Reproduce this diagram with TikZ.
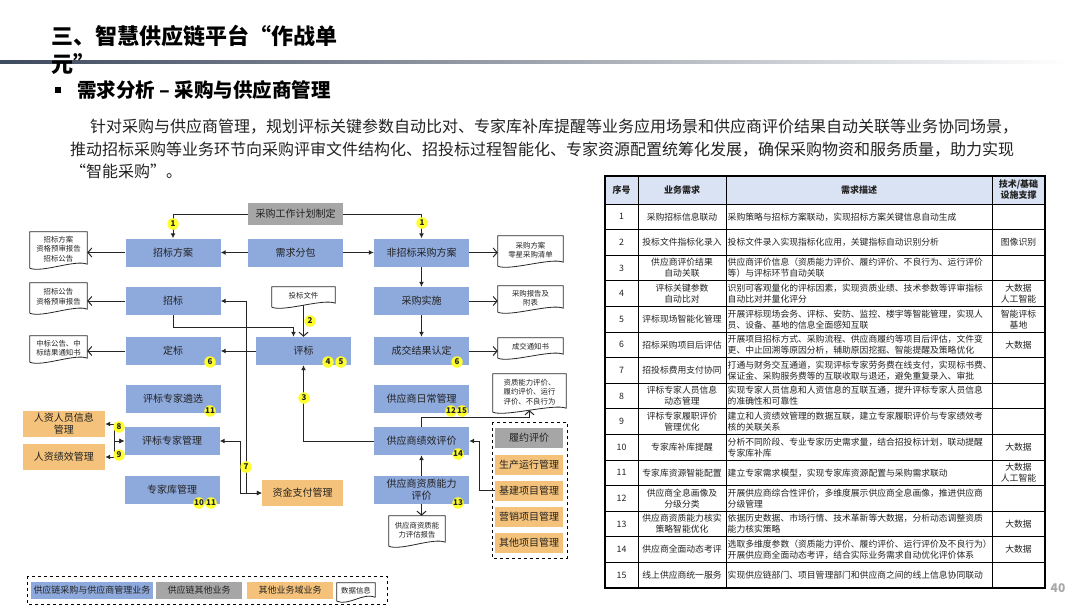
\documentclass[tikz,border=0pt]{standalone}
\usepackage{fontspec}
\setmainfont{Noto Sans CJK SC}
\usetikzlibrary{arrows.meta}
\definecolor{procblue}{HTML}{8EA9DB}
\definecolor{othgray}{HTML}{A6A6A6}
\definecolor{extorange}{HTML}{F4C27A}
\definecolor{headblue}{HTML}{DAE3F3}
\definecolor{rulegray}{HTML}{3E4A5E}
\definecolor{badgeyellow}{HTML}{FFFF30}
\definecolor{inkgray}{HTML}{222222}

\begin{document}
\begin{tikzpicture}[x=1pt, y=-1pt,
      every node/.style={text=inkgray},
      box/.style={rectangle, inner sep=0pt, minimum width=95, minimum height=28, align=center, font=\fontsize{10}{12}\selectfont},
      proc/.style={box, fill=procblue},
      other/.style={box, fill=othgray},
      ext/.style={box, fill=extorange},
      doc/.style={rectangle, inner sep=1pt, align=center, font=\fontsize{7.4}{9.6}\selectfont},
      docline/.style={draw=black!85, line width=0.8pt},
      badge/.style={circle, fill=badgeyellow, inner sep=0pt, minimum size=11.5, font=\fontsize{8}{8}\selectfont\bfseries},
      msg/.style={line width=1pt, draw=black!85, -{Latex[length=5pt,width=5pt]}},
      twoway/.style={msg, {Latex[length=5pt,width=5pt]}-{Latex[length=5pt,width=5pt]}},
      docarrow/.style={line width=1pt, draw=black!85, -{Straight Barb[length=4pt,width=9pt]}},
      cell/.style={inner sep=0pt, font=\fontsize{8.8}{11}\selectfont},
      tabline/.style={line width=0.8pt, draw=black}
  ]
    \useasboundingbox (0,0) rectangle (1080,608);

    % header of the slide
    \shade[left color=rulegray, right color=white] (0,60.5) rectangle (1070,63.5);
    \node[anchor=north west, align=left, inner sep=0pt, font=\fontsize{22}{28}\selectfont\bfseries, text=black] (title) at (51,25) {三、智慧供应链平台“作战单\\元”};
    \node[rectangle, fill=black, minimum size=5.5, inner sep=0pt] (bullet) at (58,90) {};
    \node[anchor=west, inner sep=0pt, font=\fontsize{19.5}{22}\selectfont\bfseries, text=black] (subtitle) at (77,90) {需求分析 – 采购与供应商管理};
    \node[anchor=north west, align=left, inner sep=0pt, font=\fontsize{16}{22.5}\selectfont] (intro) at (70,119) {\hspace*{20pt}针对采购与供应商管理，规划评标关键参数自动比对、专家库补库提醒等业务应用场景和供应商评价结果自动关联等业务协同场景，\\推动招标采购等业务环节向采购评审文件结构化、招投标过程智能化、专家资源配置统筹化发展，确保采购物资和服务质量，助力实现\\“智能采购”。};

    % flow chart
    \node[other, minimum height=22] (jhzd) at (295.5,214) {采购工作计划制定};
    \node[proc] (zbfa) at (173,252.5) {招标方案};
    \node[proc] (xqfb) at (295.5,252.5) {需求分包};
    \node[proc] (fzb) at (421.5,252.5) {非招标采购方案};
    \node[proc] (zb) at (173,301) {招标};
    \node[proc] (cgss) at (421.5,301) {采购实施};
    \node[proc] (pb) at (303.5,351) {评标};
    \node[proc] (db) at (173,351) {定标};
    \node[proc] (cjrd) at (421.5,351) {成交结果认定};
    \node[proc] (zjlx) at (173,399) {评标专家遴选};
    \node[proc] (zjgl) at (172,441) {评标专家管理};
    \node[proc] (zjk) at (172,490) {专家库管理};
    \node[ext, minimum width=82, minimum height=26] (hr1) at (64,424) {人资人员信息\\管理};
    \node[ext, minimum width=82, minimum height=26] (hr2) at (64,457) {人资绩效管理};
    \node[ext, minimum width=81, minimum height=26] (zjzf) at (302.5,493) {资金支付管理};
    \node[proc] (rcgl) at (421.5,399) {供应商日常管理};
    \node[proc] (jxpj) at (421.5,441) {供应商绩效评价};
    \node[proc] (zzpj) at (421.5,490) {供应商资质能力\\评价};

    \draw[dashed, line width=1pt] (492,422) rectangle (567,558);
    \node[other, minimum width=68, minimum height=20] (lypj) at (529,438) {履约评价};
    \node[ext, minimum width=68, minimum height=20] (scyx) at (529,465) {生产运行管理};
    \node[ext, minimum width=68, minimum height=20] (jjxm) at (529,490.5) {基建项目管理};
    \node[ext, minimum width=68, minimum height=20] (yxxm) at (529,517) {营销项目管理};
    \node[ext, minimum width=68, minimum height=20] (qtxm) at (529,543) {其他项目管理};

    \node[doc, minimum width=57, minimum height=34] (dzb1) at (58.5,249) {招标方案\\资格预审报告\\招标公告};
    \node[doc, minimum width=57, minimum height=28] (dzb2) at (58.5,297) {招标公告\\资格预审报告};
    \node[doc, minimum width=57, minimum height=24] (ddb) at (58.5,348) {中标公告、中\\标结果通知书};
    \node[doc, minimum width=63, minimum height=18] (dtb) at (303.5,296) {投标文件};
    \node[doc, minimum width=65, minimum height=28] (dfzb) at (530.5,250) {采购方案\\零星采购清单};
    \node[doc, minimum width=65, minimum height=24] (dcgss) at (530.5,298) {采购报告及\\附表};
    \node[doc, minimum width=65, minimum height=18] (dcj) at (530.5,347) {成交通知书};
    \node[doc, minimum width=56, minimum height=28] (dzz) at (417,530) {供应商资质能\\力评估报告};
    \node[doc, minimum width=73, minimum height=36] (dpj) at (529.5,392) {资质能力评价、\\履约评价、运行\\评价、不良行为};

    % legend
    \draw[dashed, line width=1pt] (27,576) rectangle (387,604);
    \node[proc, minimum width=122, minimum height=17, font=\fontsize{9}{10}\selectfont] (lg1) at (92,590.5) {供应链采购与供应商管理业务};
    \node[other, minimum width=86, minimum height=17, font=\fontsize{9}{10}\selectfont] (lg2) at (199,590.5) {供应链其他业务};
    \node[ext, minimum width=86, minimum height=17, font=\fontsize{9}{10}\selectfont] (lg3) at (290,590.5) {其他业务域业务};
    \node[doc, minimum width=38, minimum height=16] (dleg) at (356,591) {数据信息};

    \foreach \d in {dzb1,dzb2,ddb,dtb,dfzb,dcgss,dcj,dzz,dpj,dleg} {
      \draw[docline] ([yshift=-2pt]\d.south west) -- (\d.north west) -- (\d.north east) -- ([yshift=2pt]\d.south east) .. controls +(-12pt,5pt) and +(12pt,-5pt) .. ([yshift=-2pt]\d.south west);
    }

    \draw[msg] (jhzd.west) -| (zbfa.north);
    \draw[msg] (jhzd.east) -| (fzb.north);
    \draw[msg] (xqfb.west) -- (zbfa.east);
    \draw[msg] (xqfb.east) -- (fzb.west);
    \draw[msg] (fzb.south) -- (cgss.north);
    \draw[msg] (cgss.south) -- (cjrd.north);
    \draw[docarrow] (zbfa.west) -- (zbfa.west -| dzb1.east);
    \draw[docarrow] (zb.west) -- (zb.west -| dzb2.east);
    \draw[docarrow] (db.west) -- (db.west -| ddb.east);
    \draw[docarrow] (fzb.east) -- (fzb.east -| dfzb.west);
    \draw[docarrow] (cgss.east) -- (cgss.east -| dcgss.west);
    \draw[docarrow] (cjrd.east) -- (cjrd.east -| dcj.west);
    \draw[msg] (zb.south) -- ++(0,12) -| ([xshift=-10pt]pb.north);
    \draw[docarrow] (dtb.south) -- (pb.north);
    \draw[msg] (pb.west) -- (db.east);
    \draw[msg] (jxpj.west) -| (pb.south);
    \draw[twoway] (zjgl.west) -- ++(-10,0) |- (hr1.east);
    \draw[twoway] (zjgl.west) -- ++(-10,0) |- (hr2.east);
    \draw[twoway] (zjgl.east) -- ++(21,0) |- (zjzf.west);
    \draw[twoway] (zb.east) -- ++(26,0) |- (zjzf.west);
    \draw[msg] (zzpj.north) -- (jxpj.south);
    \draw[docarrow] (zzpj.south) -- (zzpj.south |- dzz.north);
    \draw[docarrow] (jxpj.north) -- ++(0,-9) -| (dpj.south);
    \draw[msg] (jjxm.west) -- ++(-15,0) |- (jxpj.east);

    \node[badge] (b1a) at (173,224) {1};
    \node[badge] (b1b) at (422,223) {1};
    \node[badge] (b2) at (310,321) {2};
    \node[badge] (b4) at (328,362) {4};
    \node[badge] (b5) at (341,362) {5};
    \node[badge] (b6a) at (210,362) {6};
    \node[badge] (b6b) at (457,362) {6};
    \node[badge] (b3) at (304,398) {3};
    \node[badge] (b11a) at (210,411) {11};
    \node[badge] (b8) at (119,427) {8};
    \node[badge] (b9) at (119,455) {9};
    \node[badge] (b7) at (246,467) {7};
    \node[badge] (b10) at (199,503) {10};
    \node[badge] (b11b) at (211,503) {11};
    \node[badge] (b12) at (451,411) {12};
    \node[badge] (b15) at (462,411) {15};
    \node[badge] (b14) at (458,454) {14};
    \node[badge] (b13) at (458,503) {13};

    % requirement table
    \fill[headblue] (605,176) rectangle (1045,204);
    \foreach \i in {0,...,14} {
      \draw[tabline] (605,{204+25.6*\i}) -- (1045,{204+25.6*\i});
    }
    \foreach \x in {638,726,992} {
      \draw[tabline] (\x,176) -- (\x,588);
    }
    \draw[line width=1.3pt] (605,176) rectangle (1045,588);
    \node[cell, font=\fontsize{9}{11}\selectfont\bfseries] (hno) at (621.5,190) {序号};
    \node[cell, font=\fontsize{9}{11}\selectfont\bfseries] (hreq) at (682,190) {业务需求};
    \node[cell, font=\fontsize{9}{11}\selectfont\bfseries] (hdesc) at (859,190) {需求描述};
    \node[cell, align=center, font=\fontsize{9}{11}\selectfont\bfseries] (htech) at (1018.5,190) {技术/基础\\设施支撑};

    \foreach \n/\req/\desc/\tech in {
      1/{采购招标信息联动}/{采购策略与招标方案联动，实现招标方案关键信息自动生成}/{},
      2/{投标文件指标化录入}/{投标文件录入实现指标化应用，关键指标自动识别分析}/{图像识别},
      3/{供应商评价结果\\自动关联}/{供应商评价信息（资质能力评价、履约评价、不良行为、运行评价\\等）与评标环节自动关联}/{},
      4/{评标关键参数\\自动比对}/{识别可客观量化的评标因素，实现资质业绩、技术参数等评审指标\\自动比对并量化评分}/{大数据\\人工智能},
      5/{评标现场智能化管理}/{开展评标现场会务、评标、安防、监控、楼宇等智能管理，实现人\\员、设备、基地的信息全面感知互联}/{智能评标\\基地},
      6/{招标采购项目后评估}/{开展项目招标方式、采购流程、供应商履约等项目后评估，文件变\\更、中止回溯等原因分析，辅助原因挖掘、智能提醒及策略优化}/{大数据},
      7/{招投标费用支付协同}/{打通与财务交互通道，实现评标专家劳务费在线支付，实现标书费、\\保证金、采购服务费等的互联收取与退还，避免重复录入、审批}/{},
      8/{评标专家人员信息\\动态管理}/{实现专家人员信息和人资信息的互联互通，提升评标专家人员信息\\的准确性和可靠性}/{},
      9/{评标专家履职评价\\管理优化}/{建立和人资绩效管理的数据互联，建立专家履职评价与专家绩效考\\核的关联关系}/{},
      10/{专家库补库提醒}/{分析不同阶段、专业专家历史需求量，结合招投标计划，联动提醒\\专家库补库}/{大数据},
      11/{专家库资源智能配置}/{建立专家需求模型，实现专家库资源配置与采购需求联动}/{大数据\\人工智能},
      12/{供应商全息画像及\\分级分类}/{开展供应商综合性评价，多维度展示供应商全息画像，推进供应商\\分级管理}/{},
      13/{供应商资质能力核实\\策略智能优化}/{依据历史数据、市场行情、技术革新等大数据，分析动态调整资质\\能力核实策略}/{大数据},
      14/{供应商全面动态考评}/{选取多维度参数（资质能力评价、履约评价、运行评价及不良行为）\\开展供应商全面动态考评，结合实际业务需求自动优化评价体系}/{大数据},
      15/{线上供应商统一服务}/{实现供应链部门、项目管理部门和供应商之间的线上信息协同联动}/{}} {
      \pgfmathsetmacro\yc{204+25.6*(\n-0.5)}
      \node[cell] (no\n) at (621.5,\yc) {\n};
      \node[cell, align=center] (req\n) at (682,\yc) {\req};
      \node[cell, align=left, anchor=west] (desc\n) at (727.5,\yc) {\desc};
      \node[cell, align=center] (tech\n) at (1018.5,\yc) {\tech};
    }
    \node[font=\fontsize{12}{14}\selectfont\bfseries, text=black!35] (pageno) at (1058,588) {40};
  \end{tikzpicture}
\end{document}
